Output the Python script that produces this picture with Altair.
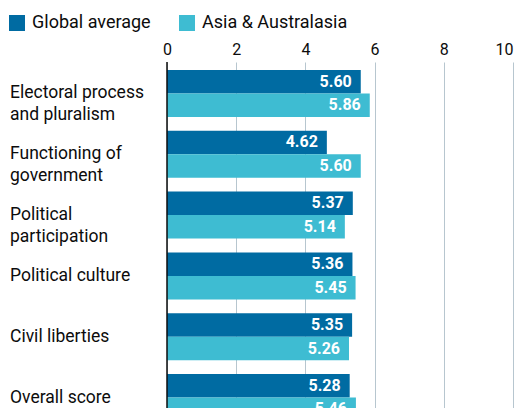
import altair as alt
import pandas as pd

categories = [
    "Electoral process\nand pluralism",
    "Functioning of\ngovernment",
    "Political\nparticipation",
    "Political culture",
    "Civil liberties",
    "Overall score",
]
global_avg = [5.60, 4.62, 5.37, 5.36, 5.35, 5.28]
asia = [5.86, 5.60, 5.14, 5.45, 5.26, 5.46]
series = ["Global average", "Asia & Australasia"]
colors = ["#006BA2", "#3EBCD2"]
x_ticks = [0, 2, 4, 6, 8, 10]

rows = []
for c, g, a in zip(categories, global_avg, asia):
    rows.append({"cat": c, "series": series[0], "value": g, "label": f"{g:.2f}"})
    rows.append({"cat": c, "series": series[1], "value": a, "label": f"{a:.2f}"})
df = pd.DataFrame(rows)
cat_df = pd.DataFrame({"cat": categories})
zero_df = pd.DataFrame({"x": [0]})

FONT = "Roboto"

yscale = alt.Scale(domain=categories, range=[0, 367], paddingInner=0.227, paddingOuter=0.13)
xscale = alt.Scale(domain=[0, 10], nice=False)
yoff_scale = alt.Scale(domain=series, paddingInner=0, paddingOuter=0)

base = alt.Chart(df)

bars = base.mark_bar(clip=True).encode(
    x=alt.X("value:Q", scale=xscale,
            axis=alt.Axis(orient="top", values=x_ticks, domain=False, ticks=False,
                          grid=True, gridColor="#B7C6CF", gridWidth=1,
                          labelFontSize=16, labelFont=FONT, labelColor="#0C0C0C",
                          labelPadding=5, labelFlush=False,
                          labelAlign=alt.condition("datum.value == 10", alt.value("right"), alt.value("center")),
                          title=None)),
    y=alt.Y("cat:N", scale=yscale, axis=None),
    yOffset=alt.YOffset("series:N", sort=series, scale=yoff_scale),
    color=alt.Color("series:N", sort=series,
                    scale=alt.Scale(domain=series, range=colors),
                    legend=alt.Legend(title=None, orient="none", legendX=-159, legendY=-48,
                                      direction="horizontal", symbolType="square",
                                      symbolSize=256, symbolStrokeWidth=0, symbolOpacity=1,
                                      labelFontSize=18, labelFont=FONT, labelColor="#0C0C0C",
                                      labelOffset=6, columnPadding=27, padding=0)),
)

values = base.mark_text(align="right", baseline="middle", dx=-9, color="white",
                        fontSize=16, fontWeight="bold", font=FONT, clip=True).encode(
    x=alt.X("value:Q", scale=xscale),
    y=alt.Y("cat:N", scale=yscale),
    yOffset=alt.YOffset("series:N", sort=series, scale=yoff_scale),
    text="label:N",
)

zero = alt.Chart(zero_df).mark_rule(color="#0C0C0C", strokeWidth=1.5).encode(
    x=alt.X("x:Q", scale=xscale)
)

ylabels = alt.Chart(cat_df).mark_text(align="left", baseline="middle", lineBreak="\n",
                                      fontSize=17.5, font=FONT, color="#0C0C0C",
                                      lineHeight=22).encode(
    x=alt.value(-157),
    y=alt.Y("cat:N", scale=yscale),
    text="cat:N",
)

chart = alt.layer(bars, zero, values, ylabels).properties(
    width=346, height=346,
    padding={"left": 159, "top": 54, "right": 1, "bottom": 0},
    autosize=alt.AutoSizeParams(type="none"),
).configure_view(stroke=None)

chart.save("out.html", embed_options={"renderer": "svg", "actions": False})
